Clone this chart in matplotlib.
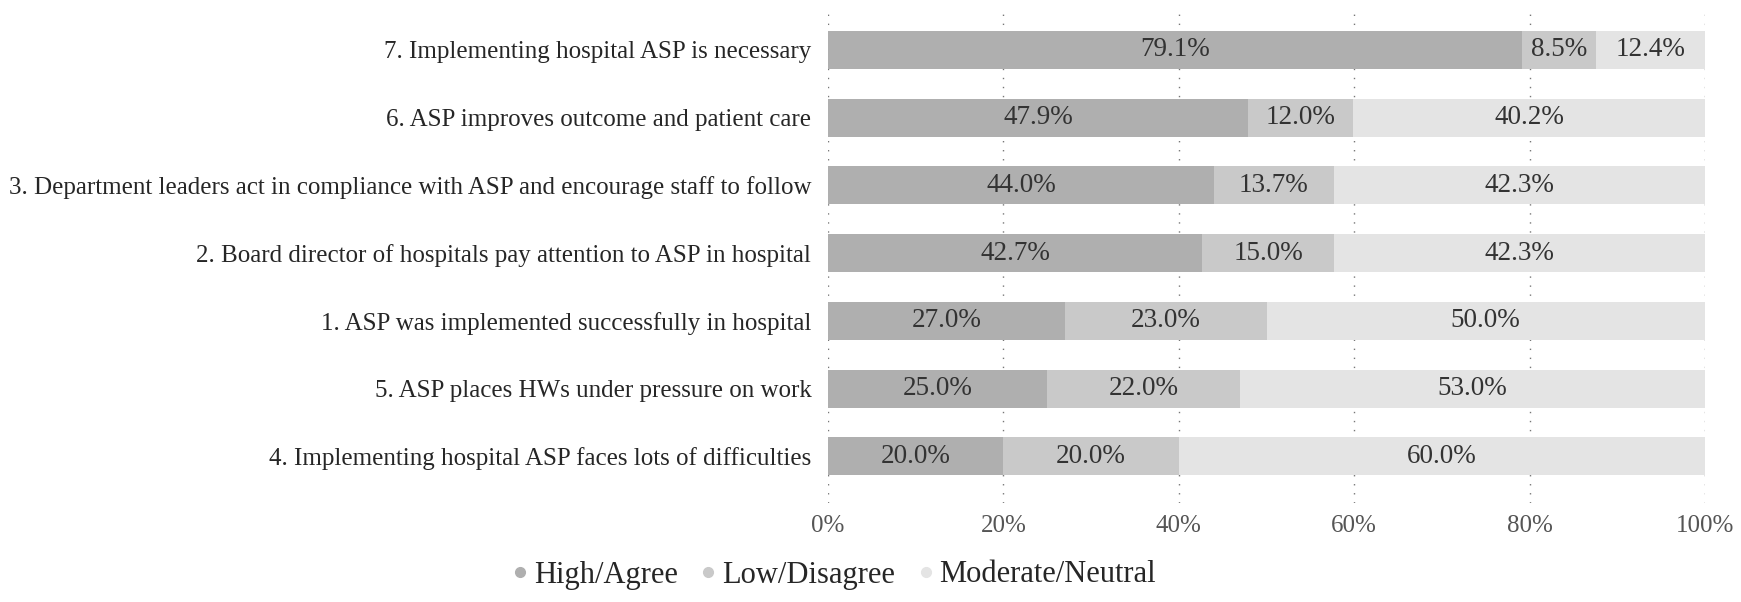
import numpy as np
import matplotlib
matplotlib.use('Agg')
import matplotlib.pyplot as plt
from matplotlib.lines import Line2D

plt.rcParams['font.family'] = ['Liberation Serif', 'DejaVu Serif']

# bottom to top
items = ['4. Implementing hospital ASP faces lots of difficulties',
         '5. ASP places HWs under pressure on work',
         '1. ASP was implemented successfully in hospital',
         '2. Board director of hospitals pay attention to ASP in hospital',
         '3. Department leaders act in compliance with ASP and encourage staff to follow',
         '6. ASP improves outcome and patient care',
         '7. Implementing hospital ASP is necessary']
high = [20.0, 25.0, 27.0, 42.7, 44.0, 47.9, 79.1]
low = [20.0, 22.0, 23.0, 15.0, 13.7, 12.0, 8.5]
moderate = [60.0, 53.0, 50.0, 42.3, 42.3, 40.2, 12.4]
series_names = ['High/Agree', 'Low/Disagree', 'Moderate/Neutral']
colors = ['#afafaf', '#c9c9c9', '#e4e4e4']
xticks = [0, 20, 40, 60, 80, 100]

fig = plt.figure(figsize=(17.41, 6.02), dpi=100)
ax = fig.add_axes([828/1741, 1 - 503/602, (1705-828)/1741, (503-10)/602])

y = np.arange(len(items))
left = np.zeros(len(items))
for vals, c in zip([high, low, moderate], colors):
    vals = np.array(vals)
    ax.barh(y, vals, left=left, height=0.56, color=c, zorder=2)
    for yi, l, v in zip(y, left, vals):
        ax.text(l + v/2, yi, '%.1f%%' % v, ha='center', va='center',
                fontsize=19.5, color='#333333', zorder=3)
    left = left + vals

ax.set_xlim(0, 100)
ax.set_ylim(-0.69, 6.59)
ax.set_yticks(y)
ax.set_yticklabels(items, fontsize=18, color='#262626')
ax.set_xticks(xticks)
ax.set_xticklabels(['%d%%' % t for t in xticks], fontsize=18, color='#555555')
ax.tick_params(axis='y', length=0, pad=12)
ax.tick_params(axis='x', length=0, pad=9)
for x in xticks:
    ax.axvline(x, color='#777777', linestyle=(0, (1, 5.5)), linewidth=1, zorder=1)
for s in ax.spines.values():
    s.set_visible(False)

handles = [Line2D([], [], marker='o', linestyle='', markersize=7,
                  markerfacecolor=c, markeredgecolor=c) for c in colors]
fig.legend(handles, series_names, loc='center', bbox_to_anchor=(832/1741, 1 - 575/602),
           ncol=3, frameon=False, fontsize=22, handletextpad=0.05, handlelength=0.8,
           columnspacing=0.6, labelcolor='#262626')

fig.savefig('out.png', dpi=100)
